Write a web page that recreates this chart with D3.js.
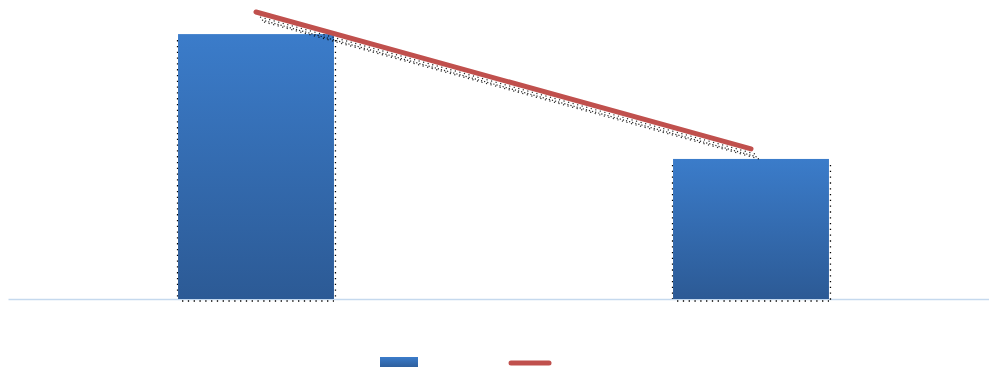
<!DOCTYPE html>
<html>
<head>
<meta charset="utf-8">
<script src="https://cdn.jsdelivr.net/npm/d3@7"></script>
<style>
  html, body { margin: 0; padding: 0; background: #fff; }
  svg { display: block; }
</style>
</head>
<body>
<svg id="chart" width="989" height="367"></svg>
<script>
// Data
const categories = ["A", "B"];
const barValues = [92.3, 48.8];
const lineValues = [100, 52.3];

const width = 989, height = 367;
const baseY = 299, topY = 12;
const plotLeft = 8.5, plotRight = 998.5;

const svg = d3.select("#chart");

const x = d3.scaleBand()
  .domain(categories)
  .range([plotLeft, plotRight])
  .paddingInner(0.685)
  .paddingOuter(0.3425);

const y = d3.scaleLinear().domain([0, 100]).range([baseY, topY]);

const defs = svg.append("defs");
const grad = defs.append("linearGradient")
  .attr("id", "barGrad").attr("x1", 0).attr("y1", 0).attr("x2", 0).attr("y2", 1);
grad.append("stop").attr("offset", "0%").attr("stop-color", "#3b7cca");
grad.append("stop").attr("offset", "100%").attr("stop-color", "#2c5a95");

// Baseline axis
svg.append("line")
  .attr("x1", plotLeft).attr("x2", width)
  .attr("y1", baseY + 0.5).attr("y2", baseY + 0.5)
  .attr("stroke", "#c5d9ee").attr("stroke-width", 1.5);

// Bar shadows (dotted outlines)
const shadow = svg.append("g").attr("fill", "none").attr("stroke", "#000")
  .attr("stroke-width", 1.3).attr("stroke-dasharray", "1.3,4.5");
categories.forEach((c, i) => {
  const x0 = x(c), x1 = x(c) + x.bandwidth(), yt = y(barValues[i]);
  shadow.append("line").attr("x1", x0 - 0.5).attr("x2", x0 - 0.5)
    .attr("y1", yt + 6).attr("y2", baseY);
  shadow.append("line").attr("x1", x1 + 1.5).attr("x2", x1 + 1.5)
    .attr("y1", yt + 6).attr("y2", baseY + 1);
  shadow.append("line").attr("x1", x0 + 4).attr("x2", x1)
    .attr("y1", baseY + 2).attr("y2", baseY + 2);
});

// Bars
svg.append("g").selectAll("rect")
  .data(barValues)
  .join("rect")
  .attr("x", (d, i) => x(categories[i]))
  .attr("y", d => y(d))
  .attr("width", x.bandwidth())
  .attr("height", d => baseY - y(d))
  .attr("fill", "url(#barGrad)");

// Line shadow (dotted band beneath the line)
const cx = (d, i) => x(categories[i]) + x.bandwidth() / 2;
const lineGen = d3.line().x(cx).y(d => y(d));
[[4, 5], [6, 8], [8, 10]].forEach(([dx, dy], k) => {
  svg.append("path")
    .datum(lineValues)
    .attr("d", lineGen)
    .attr("transform", `translate(${dx},${dy})`)
    .attr("fill", "none")
    .attr("stroke", "#000")
    .attr("stroke-width", 1.2)
    .attr("stroke-dasharray", k === 1 ? "1.2,2" : "1.2,3.5")
    .attr("opacity", 0.85);
});

// Line
svg.append("path")
  .datum(lineValues)
  .attr("d", lineGen)
  .attr("fill", "none")
  .attr("stroke", "#c0504d")
  .attr("stroke-width", 5)
  .attr("stroke-linecap", "round");

// Legend
const legend = svg.append("g");
legend.append("rect")
  .attr("x", 380).attr("y", 357).attr("width", 38).attr("height", 12)
  .attr("fill", "url(#barGrad)");
legend.append("line")
  .attr("x1", 511).attr("x2", 549).attr("y1", 363).attr("y2", 363)
  .attr("stroke", "#c0504d").attr("stroke-width", 5).attr("stroke-linecap", "round");
</script>
</body>
</html>
